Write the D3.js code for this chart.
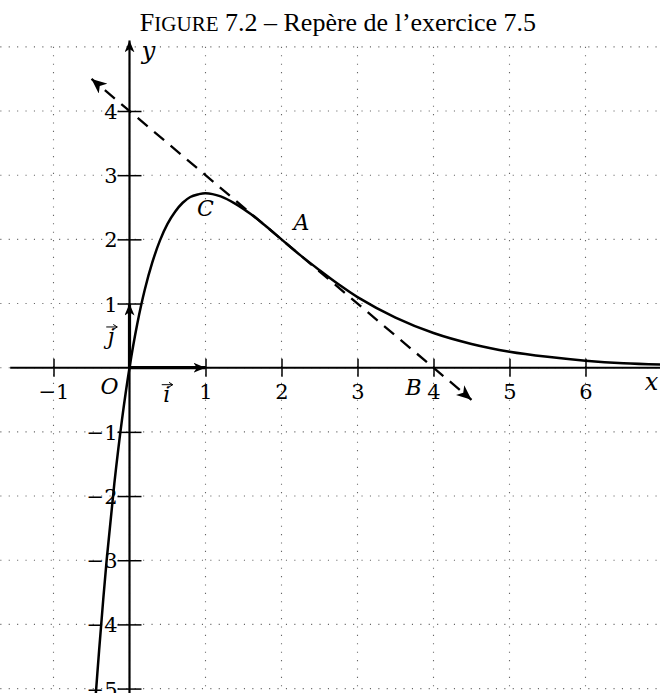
<!DOCTYPE html>
<html>
<head>
<meta charset="utf-8">
<script src="https://cdn.jsdelivr.net/npm/d3@7"></script>
<style>
  body { margin: 0; background: #fff; }
  svg { display: block; }
  text { font-family: "DejaVu Serif", serif; fill: #000; }
  .it { font-style: italic; }
  .title { font-family: "Liberation Serif", serif; }
</style>
</head>
<body>
<svg id="chart" width="660" height="693"></svg>
<script>
// ----- data -----
const xTicks = [-1, 1, 2, 3, 4, 5, 6];
const yTicks = [-5, -4, -3, -2, -1, 1, 2, 3, 4];
const gridX = [-1, 0, 1, 2, 3, 4, 5, 6, 7];
const gridY = [-5, -4, -3, -2, -1, 0, 1, 2, 3, 4, 5];

// sampled points of the curve
const curveX = [-0.46, -0.4, -0.3, -0.2, -0.1, 0, 0.1, 0.2, 0.3, 0.4, 0.5, 0.6, 0.7, 0.8, 0.9, 1.0,
                1.2, 1.4, 1.6, 1.8, 2.0, 2.25, 2.5, 2.75, 3.0, 3.5, 4.0, 4.5, 5.0, 5.5, 6.0, 6.5, 7.0];
const curveY = [-5.35, -4.41, -2.99, -1.81, -0.82, 0, 0.67, 1.21, 1.64, 1.98, 2.24, 2.43, 2.57, 2.66, 2.70, 2.72,
                2.67, 2.55, 2.39, 2.20, 2.00, 1.75, 1.52, 1.30, 1.10, 0.78, 0.54, 0.37, 0.25, 0.17, 0.11, 0.07, 0.05];

// tangent line at A (dashed, arrows at both ends)
const tangentX = [-0.5, 4.5];
const tangentY = [4.5, -0.5];

// named points
const pointNames = ["C", "A", "B"];
const pointX = [1, 2, 4];
const pointY = [2.72, 2, 0];

// ----- scales -----
const svg = d3.select("#chart");
const x = d3.scaleLinear().domain([0, 6]).range([129.5, 585.5]);
const y = d3.scaleLinear().domain([0, 4]).range([367.7, 111]);
const fmt = d3.format("d");

// ----- arrow markers -----
const defs = svg.append("defs");
function marker(id, len, half) {
  defs.append("marker")
    .attr("id", id)
    .attr("markerUnits", "userSpaceOnUse")
    .attr("viewBox", `${-len} ${-half} ${len + 1} ${2 * half}`)
    .attr("refX", 0).attr("refY", 0)
    .attr("markerWidth", len + 1).attr("markerHeight", 2 * half)
    .attr("orient", "auto-start-reverse")
    .append("path")
    .attr("d", `M0,0 L${-len},${-half} L${-len * 0.72},0 L${-len},${half} Z`)
    .attr("fill", "#000");
}
marker("arr", 12, 5);
marker("arrBig", 15, 6.5);

// ----- dotted grid -----
const grid = svg.append("g").attr("stroke", "#666").attr("stroke-width", 1.1)
  .attr("stroke-dasharray", "1.1 7.3");
grid.selectAll("line.v").data(gridX).join("line").attr("class", "v")
  .attr("x1", d => x(d)).attr("x2", d => x(d))
  .attr("y1", y(5)).attr("y2", y(-5.2));
grid.selectAll("line.h").data(gridY).join("line").attr("class", "h")
  .attr("x1", x(-1.7)).attr("x2", x(7.1))
  .attr("y1", d => y(d)).attr("y2", d => y(d));

// ----- axes -----
const xAxis = svg.append("g").attr("transform", `translate(0,${y(0)})`)
  .call(d3.axisBottom(x).tickValues(xTicks).tickFormat(fmt).tickSize(0).tickPadding(0));
xAxis.select(".domain").remove();
xAxis.selectAll(".tick line").attr("y1", -9).attr("y2", 9)
  .attr("stroke", "#000").attr("stroke-width", 1.5);
xAxis.selectAll(".tick text").attr("y", 31).attr("dy", null)
  .attr("font-size", 21).attr("font-family", "DejaVu Serif").attr("fill", "#000");

const yAxis = svg.append("g").attr("transform", `translate(${x(0)},0)`)
  .call(d3.axisLeft(y).tickValues(yTicks).tickFormat(fmt).tickSize(0).tickPadding(0));
yAxis.select(".domain").remove();
yAxis.selectAll(".tick line").attr("x1", -12).attr("x2", 12)
  .attr("stroke", "#000").attr("stroke-width", 1.5);
yAxis.selectAll(".tick text").attr("x", -12).attr("dy", "0.36em")
  .attr("font-size", 21).attr("font-family", "DejaVu Serif").attr("fill", "#000");

// axis lines
svg.append("line")
  .attr("x1", x(-1.57)).attr("x2", x(7.2))
  .attr("y1", y(0)).attr("y2", y(0))
  .attr("stroke", "#000").attr("stroke-width", 2);
svg.append("line")
  .attr("x1", x(0)).attr("x2", x(0))
  .attr("y1", y(-5.3)).attr("y2", y(5.1))
  .attr("stroke", "#000").attr("stroke-width", 2.2)
  .attr("marker-end", "url(#arr)");

// ----- unit vectors -----
svg.append("line")
  .attr("x1", x(0)).attr("y1", y(0)).attr("x2", x(1)).attr("y2", y(0))
  .attr("stroke", "#000").attr("stroke-width", 3.2).attr("marker-end", "url(#arr)");
svg.append("line")
  .attr("x1", x(0)).attr("y1", y(0)).attr("x2", x(0)).attr("y2", y(1))
  .attr("stroke", "#000").attr("stroke-width", 3.2).attr("marker-end", "url(#arr)");

// ----- curve -----
const pts = curveX.map((d, i) => [d, curveY[i]]);
svg.append("path")
  .datum(pts)
  .attr("d", d3.line().x(d => x(d[0])).y(d => y(d[1])).curve(d3.curveCatmullRom))
  .attr("fill", "none").attr("stroke", "#000").attr("stroke-width", 2.5);

// ----- tangent -----
svg.append("line")
  .attr("x1", x(tangentX[0])).attr("y1", y(tangentY[0]))
  .attr("x2", x(tangentX[1])).attr("y2", y(tangentY[1]))
  .attr("stroke", "#000").attr("stroke-width", 2.3)
  .attr("stroke-dasharray", "13 8.5").attr("stroke-dashoffset", 4)
  .attr("marker-start", "url(#arrBig)").attr("marker-end", "url(#arrBig)");

// ----- labels -----
const lab = (t, px, py, anchor = "middle", size = 22) =>
  svg.append("text").attr("class", "it").attr("x", px).attr("y", py)
    .attr("text-anchor", anchor).attr("font-size", size).text(t);

// point labels placed around their points
const labelOffset = { C: [0, 23], A: [20, -9], B: [-20, 27] };
pointNames.forEach((n, i) => {
  const [dx, dy] = labelOffset[n];
  lab(n, x(pointX[i]) + dx, y(pointY[i]) + dy);
});
lab("O", x(0) - 20, y(0) + 26);
lab("x", x(7) - 10, y(0) + 22, "middle", 24);
lab("y", x(0) + 19, y(5) + 12, "middle", 24);

// vector labels with small arrows above
defs.append("marker").attr("id", "tiny").attr("markerUnits", "userSpaceOnUse")
  .attr("viewBox", "-4 -3 5 6").attr("refX", 0).attr("refY", 0)
  .attr("markerWidth", 5).attr("markerHeight", 6).attr("orient", "auto")
  .append("path").attr("d", "M-4,-2.5 L0,0 L-4,2.5").attr("fill", "none")
  .attr("stroke", "#000").attr("stroke-width", 1);
function vecLabel(t, px, py) {
  lab(t, px, py);
  svg.append("line")
    .attr("x1", px - 5).attr("x2", px + 6)
    .attr("y1", py - 17).attr("y2", py - 17)
    .attr("stroke", "#000").attr("stroke-width", 1)
    .attr("marker-end", "url(#tiny)");
}
vecLabel("i", x(0.49), y(0) + 34);
vecLabel("j", x(-0.24), y(0.37));

// ----- title -----
const title = svg.append("text").attr("class", "title").attr("x", 338).attr("y", 31)
  .attr("text-anchor", "middle").attr("font-size", 26);
title.append("tspan").text("F");
title.append("tspan").attr("font-size", 21).text("IGURE");
title.append("tspan").text(" 7.2 – Repère de l’exercice 7.5");
</script>
</body>
</html>
